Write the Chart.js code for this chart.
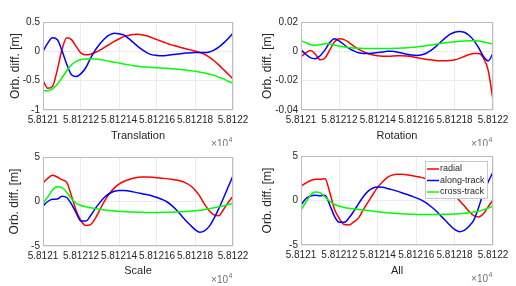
<!DOCTYPE html>
<html>
<head>
    <meta charset="utf-8">
    <title>Orbit differences</title>
    <script src="https://cdn.jsdelivr.net/npm/chart.js"></script>
    <style>
        body { margin: 0; background: #fff; }
        #wrap { position: relative; width: 516px; height: 286px; }
        #wrap canvas { position: absolute; }
    </style>
</head>
<body>
<div id="wrap">
    <canvas id="c1" width="258" height="146" style="left:0;top:0"></canvas>
    <canvas id="c2" width="258" height="146" style="left:258px;top:0"></canvas>
    <canvas id="c3" width="258" height="143" style="left:0;top:143px"></canvas>
    <canvas id="c4" width="258" height="143" style="left:258px;top:143px"></canvas>
</div>
<script>
    // time axis (MJD), sampled every 0.025 day
    const dayBase = 58121;
    const sampleOffsets = [0, 0.025, 0.05, 0.075, 0.1, 0.125, 0.15, 0.175, 0.2, 0.225,
        0.25, 0.275, 0.3, 0.325, 0.35, 0.375, 0.4, 0.425, 0.45, 0.475,
        0.5, 0.525, 0.55, 0.575, 0.6, 0.625, 0.65, 0.675, 0.7, 0.725,
        0.75, 0.775, 0.8, 0.825, 0.85, 0.875, 0.9, 0.925, 0.95, 0.975, 1];

    const xTickValues = [58121, 58121.2, 58121.4, 58121.6, 58121.8, 58122];
    const xTickLabels = ['5.8121', '5.81212', '5.81214', '5.81216', '5.81218', '5.8122'];

    const seriesNames = ['radial', 'along-track', 'cross-track'];
    const seriesColors = ['#ff0000', '#0000ff', '#00ff00'];

    // Translation
    const transRadial = [-0.50, -0.63, -0.60, -0.32, 0.03, 0.23, 0.20, 0.08, -0.03, -0.06,
        -0.05, -0.02, 0.02, 0.07, 0.12, 0.17, 0.21, 0.25, 0.27, 0.285,
        0.29, 0.28, 0.26, 0.23, 0.20, 0.17, 0.14, 0.11, 0.09, 0.065,
        0.045, 0.025, 0.005, -0.02, -0.05, -0.10, -0.16, -0.23, -0.31, -0.39, -0.47];
    const transAlong = [0.00, 0.14, 0.23, 0.20, 0.01, -0.22, -0.40, -0.43, -0.38, -0.28,
        -0.12, 0.02, 0.13, 0.22, 0.28, 0.31, 0.30, 0.28, 0.22, 0.15,
        0.08, 0.02, -0.03, -0.06, -0.07, -0.075, -0.07, -0.06, -0.05, -0.04,
        -0.03, -0.025, -0.02, -0.02, -0.02, -0.01, 0.02, 0.07, 0.14, 0.22, 0.31];
    const transCross = [-0.67, -0.67, -0.64, -0.56, -0.45, -0.33, -0.23, -0.17, -0.14, -0.13,
        -0.125, -0.13, -0.14, -0.155, -0.17, -0.185, -0.20, -0.215, -0.23, -0.245,
        -0.255, -0.265, -0.27, -0.275, -0.28, -0.285, -0.29, -0.295, -0.30, -0.31,
        -0.32, -0.33, -0.34, -0.355, -0.37, -0.39, -0.41, -0.44, -0.47, -0.51, -0.54];

    // Rotation
    const rotRadial = [-0.0038, -0.0010, 0.0005, -0.0020, -0.0058, -0.0045, 0.0010, 0.0065, 0.0085, 0.0080,
        0.0060, 0.0035, 0.0015, -0.0003, -0.0015, -0.0025, -0.0030, -0.0033, -0.0034, -0.0032,
        -0.0030, -0.0030, -0.0032, -0.0036, -0.0042, -0.0048, -0.0054, -0.0058, -0.0062, -0.0064,
        -0.0065, -0.0063, -0.0058, -0.0048, -0.0035, -0.0022, -0.0015, -0.0015, -0.0045, -0.0130, -0.0330];
    const rotAlong = [0.0010, -0.0020, -0.0045, -0.0050, -0.0030, 0.0010, 0.0060, 0.0085, 0.0070, 0.0045,
        0.0020, 0.0003, -0.0010, -0.0015, -0.0015, -0.0012, -0.0008, -0.0004, 0.0000, 0.0000,
        -0.0005, -0.0012, -0.0020, -0.0025, -0.0028, -0.0025, -0.0015, 0.0005, 0.0030, 0.0060,
        0.0090, 0.0115, 0.0130, 0.0135, 0.0130, 0.0110, 0.0075, 0.0025, -0.0035, -0.0065, -0.0015];
    const rotCross = [0.0072, 0.0060, 0.0045, 0.0042, 0.0047, 0.0052, 0.0050, 0.0043, 0.0035, 0.0030,
        0.0026, 0.0023, 0.0021, 0.0020, 0.0019, 0.0019, 0.0019, 0.0019, 0.0020, 0.0020,
        0.0021, 0.0022, 0.0024, 0.0027, 0.0030, 0.0034, 0.0038, 0.0043, 0.0048, 0.0053,
        0.0058, 0.0062, 0.0066, 0.0069, 0.0071, 0.0072, 0.0072, 0.0070, 0.0064, 0.0057, 0.0050];

    // Scale
    const scaleRadial = [2.1, 2.6, 2.95, 2.75, 2.45, 2.15, 0.63, -1.04, -2.16, -2.7,
        -2.6, -1.9, -0.9, 0.1, 0.9, 1.5, 1.95, 2.25, 2.45, 2.62,
        2.72, 2.76, 2.75, 2.72, 2.68, 2.62, 2.57, 2.5, 2.42, 2.3,
        2.1, 1.8, 1.3, 0.6, -0.3, -1.05, -1.5, -1.6, -0.9, -0.1, 0.6];
    const scaleAlong = [-0.5, 0.0, 0.25, 0.28, 0.6, 0.45, -0.3, -1.3, -2.2, -2.2,
        -1.6, -0.8, -0.1, 0.5, 0.9, 1.15, 1.25, 1.25, 1.18, 1.08,
        0.97, 0.85, 0.75, 0.62, 0.45, 0.25, 0.0, -0.4, -0.9, -1.5,
        -2.1, -2.65, -3.15, -3.45, -3.3, -2.8, -1.9, -0.8, 0.4, 1.65, 2.9];
    const scaleCross = [-0.2, 0.5, 1.3, 1.65, 1.55, 1.05, 0.3, -0.2, -0.45, -0.6,
        -0.7, -0.8, -0.88, -0.96, -1.02, -1.07, -1.1, -1.13, -1.16, -1.19,
        -1.21, -1.22, -1.23, -1.23, -1.23, -1.22, -1.21, -1.2, -1.18, -1.16,
        -1.13, -1.09, -1.05, -0.99, -0.9, -0.8, -0.7, -0.6, -0.48, -0.35, -0.2];

    // All
    const allRadial = [1.6, 1.95, 2.25, 2.38, 2.4, 2.45, 0.9, -1.0, -2.05, -2.7,
        -2.75, -2.4, -1.95, -1.0, -0.15, 0.7, 1.5, 2.1, 2.6, 2.85,
        2.95, 2.95, 2.9, 2.8, 2.7, 2.6, 2.45, 2.3, 2.1, 1.9,
        1.6, 1.2, 0.6, 0.0, -0.6, -1.2, -1.7, -1.85, -1.5, -0.7, 0.05];
    const allAlong = [-0.5, 0.2, 0.5, 0.58, 0.52, 0.6, -0.5, -1.8, -2.45, -2.45,
        -1.95, -1.2, -0.35, 0.45, 1.05, 1.4, 1.53, 1.48, 1.36, 1.22,
        1.05, 0.88, 0.7, 0.5, 0.3, 0.07, -0.25, -0.65, -1.1, -1.65,
        -2.2, -2.75, -3.25, -3.5, -3.35, -2.9, -2.2, -0.8, 0.9, 2.1, 3.2];
    const allCross = [-1.05, -0.2, 0.6, 0.95, 0.85, 0.4, -0.1, -0.45, -0.65, -0.78,
        -0.88, -0.95, -1.0, -1.07, -1.13, -1.2, -1.26, -1.32, -1.38, -1.42,
        -1.46, -1.5, -1.53, -1.55, -1.57, -1.58, -1.58, -1.57, -1.57, -1.56,
        -1.55, -1.54, -1.52, -1.49, -1.44, -1.38, -1.3, -1.2, -1.05, -0.85, -0.63];

    // y ticks
    const transYTicks = [-1, -0.5, 0, 0.5];
    const transYLabels = ['-1', '-0.5', '0', '0.5'];
    const rotYTicks = [-0.04, -0.02, 0, 0.02];
    const rotYLabels = ['-0.04', '-0.02', '0', '0.02'];
    const scaleYTicks = [-5, 0, 5];
    const scaleYLabels = ['-5', '0', '5'];

    Chart.defaults.font.family = '"Liberation Sans", Arial, sans-serif';
    Chart.defaults.color = '#262626';

    // box around the axes, like matlab "box on"
    const framePlugin = {
        id: 'frame',
        afterDraw(chart) {
            const a = chart.chartArea;
            const ctx = chart.ctx;
            ctx.save();
            ctx.strokeStyle = '#bdbdbd';
            ctx.lineWidth = 1;
            ctx.strokeRect(Math.round(a.left) + 0.5, Math.round(a.top) + 0.5,
                Math.round(a.right - a.left) - 1, Math.round(a.bottom - a.top) - 1);
            ctx.restore();
        }
    };

    // "x10^4" under the right end of the x axis
    const exponentPlugin = {
        id: 'exponent',
        afterDraw(chart) {
            const a = chart.chartArea;
            const ctx = chart.ctx;
            ctx.save();
            ctx.fillStyle = '#707070';
            ctx.font = '10px "Liberation Sans", Arial, sans-serif';
            ctx.textAlign = 'right';
            ctx.textBaseline = 'middle';
            ctx.fillText('\u00d710', a.right - 5, a.bottom + 34);
            ctx.font = '7px "Liberation Sans", Arial, sans-serif';
            ctx.textAlign = 'left';
            ctx.fillText('4', a.right - 4.5, a.bottom + 30);
            ctx.restore();
        }
    };

    // legend inside the upper right corner of the last panel
    const boxLegendPlugin = {
        id: 'boxLegend',
        afterDatasetsDraw(chart) {
            const a = chart.chartArea;
            const ctx = chart.ctx;
            const w = 62, h = 37;
            const x = Math.round(a.right) - 6 - w;
            const y = Math.round(a.top) + 5;
            ctx.save();
            ctx.fillStyle = '#ffffff';
            ctx.fillRect(x, y, w, h);
            ctx.strokeStyle = '#c8c8c8';
            ctx.lineWidth = 1;
            ctx.strokeRect(x + 0.5, y + 0.5, w, h);
            ctx.font = '9px "Liberation Sans", Arial, sans-serif';
            ctx.textBaseline = 'middle';
            ctx.textAlign = 'left';
            seriesNames.forEach((name, i) => {
                const yy = y + 8 + i * 11.5;
                ctx.strokeStyle = seriesColors[i];
                ctx.lineWidth = 1.5;
                ctx.beginPath();
                ctx.moveTo(x + 2, yy);
                ctx.lineTo(x + 14, yy);
                ctx.stroke();
                ctx.fillStyle = '#262626';
                ctx.fillText(name, x + 15, yy);
            });
            ctx.restore();
        }
    };

    function toPoints(values) {
        return sampleOffsets.map((d, i) => ({ x: dayBase + d, y: values[i] }));
    }

    function makePanel(id, cfg) {
        const datasets = [cfg.radial, cfg.along, cfg.cross].map((vals, i) => ({
            label: seriesNames[i],
            data: toPoints(vals),
            borderColor: seriesColors[i],
            borderWidth: 1.5,
            pointRadius: 0,
            cubicInterpolationMode: 'monotone',
            order: 3 - i
        }));
        const plugins = [framePlugin, exponentPlugin];
        if (cfg.legend) plugins.push(boxLegendPlugin);

        new Chart(document.getElementById(id), {
            type: 'line',
            data: { datasets: datasets },
            plugins: plugins,
            options: {
                responsive: false,
                animation: false,
                devicePixelRatio: 1,
                layout: { padding: { left: 0, top: cfg.padTop, right: cfg.padRight, bottom: 0 } },
                plugins: { legend: { display: false }, tooltip: { enabled: false } },
                scales: {
                    x: {
                        type: 'linear',
                        min: 58121,
                        max: 58122,
                        afterBuildTicks: s => { s.ticks = xTickValues.map(v => ({ value: v })); },
                        afterFit: s => { s.height = cfg.xHeight; },
                        ticks: {
                            autoSkip: false,
                            maxRotation: 0,
                            minRotation: 0,
                            padding: 4,
                            font: { size: 10 },
                            color: '#262626',
                            callback: (v, i) => xTickLabels[i]
                        },
                        grid: { color: '#ebebeb', drawTicks: false },
                        border: { display: false },
                        title: {
                            display: true,
                            text: cfg.title,
                            font: { size: 11 },
                            color: '#262626',
                            padding: { top: 0, bottom: cfg.xTitlePad }
                        }
                    },
                    y: {
                        min: cfg.yTicks[0],
                        max: cfg.yTicks[cfg.yTicks.length - 1],
                        afterBuildTicks: s => { s.ticks = cfg.yTicks.map(v => ({ value: v })); },
                        afterFit: s => { s.width = 43; },
                        ticks: {
                            padding: 3,
                            font: { size: 10 },
                            color: '#262626',
                            callback: (v, i) => cfg.yLabels[i]
                        },
                        grid: { color: '#ebebeb', drawTicks: false },
                        border: { display: false },
                        title: {
                            display: true,
                            text: 'Orb. diff. [m]',
                            font: { size: 12 },
                            color: '#262626',
                            padding: { top: cfg.yTitlePad, bottom: 0 }
                        }
                    }
                }
            }
        });
    }

    makePanel('c1', { radial: transRadial, along: transAlong, cross: transCross, title: 'Translation',
        yTicks: transYTicks, yLabels: transYLabels,
        padTop: 22, padRight: 25, xHeight: 36, xTitlePad: 3.5, yTitlePad: 8 });
    makePanel('c2', { radial: rotRadial, along: rotAlong, cross: rotCross, title: 'Rotation',
        yTicks: rotYTicks, yLabels: rotYLabels,
        padTop: 22, padRight: 23, xHeight: 36, xTitlePad: 3.5, yTitlePad: 2 });
    makePanel('c3', { radial: scaleRadial, along: scaleAlong, cross: scaleCross, title: 'Scale',
        yTicks: scaleYTicks, yLabels: scaleYLabels,
        padTop: 14, padRight: 25, xHeight: 40, xTitlePad: 8.5, yTitlePad: 7 });
    makePanel('c4', { radial: allRadial, along: allAlong, cross: allCross, title: 'All',
        yTicks: scaleYTicks, yLabels: scaleYLabels, legend: true,
        padTop: 13, padRight: 23, xHeight: 41, xTitlePad: 8.5, yTitlePad: 2 });
</script>
</body>
</html>
